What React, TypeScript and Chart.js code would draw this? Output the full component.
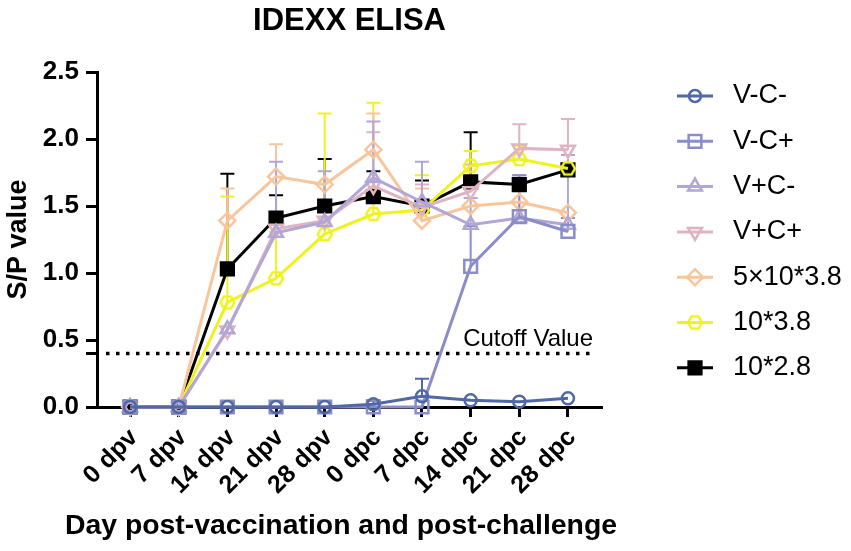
import { useEffect, useRef } from "react";
import { Chart, registerables } from "chart.js";
import { drawPoint } from "chart.js/helpers";

Chart.register(...registerables);

const FONT = "'Liberation Sans', Arial, sans-serif";

const CATEGORIES = ["0 dpv", "7 dpv", "14 dpv", "21 dpv", "28 dpv", "0 dpc", "7 dpc", "14 dpc", "21 dpc", "28 dpc"];
const Y_TICKS = [0, 0.4, 0.5, 1.0, 1.5, 2.0, 2.5];
const CUTOFF = 0.4;
const CUTOFF_LABEL = "Cutoff Value";
const X_TITLE = "Day post-vaccination and post-challenge";

// means and upper SD per group
const V_C_NEG = [0, 0, 0, 0, 0, 0.02, 0.08, 0.05, 0.04, 0.065];
const V_C_NEG_SD = [0, 0, 0, 0, 0, 0.03, 0.13, 0, 0, 0];
const V_C_POS = [0, 0, 0, 0, 0, 0, 0, 1.05, 1.42, 1.31];
const V_C_POS_SD = [0, 0, 0, 0, 0, 0, 0, 0.3, 0.31, 0.1];
const V_POS_C_NEG = [0, 0, 0.58, 1.3, 1.38, 1.71, 1.53, 1.36, 1.41, 1.36];
const V_POS_C_NEG_SD = [0, 0, 0, 0.53, 0.38, 0.42, 0.3, 0.2, 0.32, 0.52];
const V_POS_C_POS = [0, 0, 0.57, 1.33, 1.39, 1.65, 1.49, 1.61, 1.93, 1.92];
const V_POS_C_POS_SD = [0, 0, 0, 0, 0, 0.4, 0.17, 0.2, 0.18, 0.23];
const DOSE_5E38 = [0, 0, 1.39, 1.72, 1.66, 1.92, 1.39, 1.5, 1.53, 1.45];
const DOSE_5E38_SD = [0, 0, 0.24, 0.24, 0, 0.27, 0.24, 0, 0, 0];
const DOSE_E38 = [0, 0, 0.78, 0.96, 1.29, 1.44, 1.47, 1.8, 1.85, 1.78];
const DOSE_E38_SD = [0, 0, 0.79, 0.35, 0.9, 0.83, 0.26, 0.11, 0.1, 0];
const DOSE_E28 = [0, 0, 1.03, 1.41, 1.5, 1.57, 1.5, 1.68, 1.66, 1.77];
const DOSE_E28_SD = [0, 0, 0.71, 0.17, 0.35, 0.19, 0.19, 0.37, 0, 0];

function hexagon(color: string) {
  const c = document.createElement("canvas");
  c.width = 18;
  c.height = 18;
  const g = c.getContext("2d")!;
  g.strokeStyle = color;
  g.lineWidth = 2.5;
  g.beginPath();
  for (let k = 0; k < 6; k++) {
    const a = (k * Math.PI) / 3;
    const px = 9 + 7 * Math.cos(a);
    const py = 9 + 7 * Math.sin(a);
    if (k === 0) g.moveTo(px, py);
    else g.lineTo(px, py);
  }
  g.closePath();
  g.stroke();
  return c;
}

export default function App() {
  const canvasRef = useRef<HTMLCanvasElement>(null);
  const chartRef = useRef<Chart | null>(null);

  useEffect(() => {
    if (!canvasRef.current) return;
    if (chartRef.current) chartRef.current.destroy();

    const series = [
      { label: "V-C-", data: V_C_NEG, sd: V_C_NEG_SD, color: "#5068a6", style: "circle", radius: 6, fill: "rgba(0,0,0,0)", rot: 0 },
      { label: "V-C+", data: V_C_POS, sd: V_C_POS_SD, color: "#8a8dc9", style: "rect", radius: 9, fill: "rgba(0,0,0,0)", rot: 0 },
      { label: "V+C-", data: V_POS_C_NEG, sd: V_POS_C_NEG_SD, color: "#b1a6d6", style: "triangle", radius: 8, fill: "rgba(0,0,0,0)", rot: 0 },
      { label: "V+C+", data: V_POS_C_POS, sd: V_POS_C_POS_SD, color: "#dfb3c3", style: "triangle", radius: 8, fill: "rgba(0,0,0,0)", rot: 180 },
      { label: "5×10*3.8", data: DOSE_5E38, sd: DOSE_5E38_SD, color: "#f8c59d", style: "rectRot", radius: 8, fill: "rgba(0,0,0,0)", rot: 0 },
      { label: "10*3.8", data: DOSE_E38, sd: DOSE_E38_SD, color: "#eef31e", style: hexagon("#eef31e"), radius: 7, fill: "rgba(0,0,0,0)", rot: 0 },
      { label: "10*2.8", data: DOSE_E28, sd: DOSE_E28_SD, color: "#000000", style: "rect", radius: 9, fill: "#000000", rot: 0 },
    ];

    const overlay = {
      id: "overlay",
      beforeDatasetsDraw(chart: any) {
        const { ctx, chartArea, scales } = chart;
        const { x, y } = scales;
        ctx.save();
        // cutoff line
        const cy = y.getPixelForValue(CUTOFF);
        ctx.strokeStyle = "#000";
        ctx.lineWidth = 3.5;
        ctx.setLineDash([3.5, 6.5]);
        ctx.beginPath();
        ctx.moveTo(chartArea.left + 9, cy);
        ctx.lineTo(chartArea.right - 9, cy);
        ctx.stroke();
        ctx.setLineDash([]);
        ctx.fillStyle = "#000";
        ctx.font = `24px ${FONT}`;
        ctx.textAlign = "right";
        ctx.textBaseline = "alphabetic";
        ctx.fillText(CUTOFF_LABEL, chartArea.right - 9, cy - 7);
        // error bars (upper only)
        for (let i = series.length - 1; i >= 0; i--) {
          const s = series[i];
          ctx.strokeStyle = s.color;
          ctx.lineWidth = 2;
          s.data.forEach((v, j) => {
            if (!s.sd[j]) return;
            const px = x.getPixelForValue(j);
            const y0 = y.getPixelForValue(v);
            const y1 = y.getPixelForValue(v + s.sd[j]);
            ctx.beginPath();
            ctx.moveTo(px, y0);
            ctx.lineTo(px, y1);
            ctx.moveTo(px - 7, y1);
            ctx.lineTo(px + 7, y1);
            ctx.stroke();
          });
        }
        ctx.restore();
      },
      afterDraw(chart: any) {
        const { ctx, chartArea } = chart;
        ctx.save();
        ctx.fillStyle = "#000";
        // title
        ctx.font = `bold 31px ${FONT}`;
        ctx.textAlign = "center";
        ctx.textBaseline = "alphabetic";
        ctx.fillText("IDEXX ELISA", (chartArea.left + chartArea.right) / 2, 30);
        // x axis title
        ctx.font = `bold 28.4px ${FONT}`;
        ctx.textBaseline = "middle";
        ctx.fillText(X_TITLE, 341, 526);
        // legend
        series.forEach((s, i) => {
          const ly = 96 + i * 45.3;
          ctx.strokeStyle = s.color;
          ctx.lineWidth = 3;
          ctx.beginPath();
          ctx.moveTo(677, ly);
          ctx.lineTo(713, ly);
          ctx.stroke();
          ctx.fillStyle = s.fill;
          ctx.lineWidth = 2.5;
          drawPoint(ctx, { pointStyle: s.style, rotation: s.rot, radius: s.radius, borderWidth: 2.5 } as any, 695, ly);
          ctx.fillStyle = "#000";
          ctx.font = `27px ${FONT}`;
          ctx.textAlign = "left";
          ctx.textBaseline = "middle";
          ctx.fillText(s.label, 733, ly);
        });
        ctx.restore();
      },
    };

    chartRef.current = new Chart(canvasRef.current, {
      type: "line",
      data: {
        datasets: series.map((s) => ({
          label: s.label,
          data: s.data.map((v, i) => ({ x: i, y: v })),
          borderColor: s.color,
          backgroundColor: s.fill,
          borderWidth: 3,
          pointStyle: s.style as any,
          pointRotation: s.rot,
          pointRadius: s.radius,
          pointBorderWidth: 2.5,
          pointBorderColor: s.color,
          pointBackgroundColor: s.fill,
          tension: 0,
          clip: false as any,
        })),
      },
      options: {
        responsive: false,
        animation: false,
        layout: { padding: { top: 72, right: 249, bottom: 0, left: 0 } },
        plugins: {
          legend: { display: false },
          tooltip: { enabled: false },
          title: { display: false },
        },
        scales: {
          x: {
            type: "linear",
            min: -0.68,
            max: 9.7,
            afterBuildTicks: (s: any) => {
              s.ticks = CATEGORIES.map((_, i) => ({ value: i }));
            },
            afterFit: (s: any) => {
              s.height = 144;
            },
            ticks: {
              callback: (v: any) => CATEGORIES[v as number],
              autoSkip: false,
              minRotation: 45,
              maxRotation: 45,
              padding: 6,
              labelOffset: 4,
              color: "#000",
              font: { family: FONT, size: 25, weight: "bold" },
            },
            grid: { drawOnChartArea: false, drawTicks: true, tickLength: 10, tickColor: "#000", tickWidth: 3 },
            border: { display: true, color: "#000", width: 3 },
          },
          y: {
            min: 0,
            max: 2.5,
            afterBuildTicks: (s: any) => {
              s.ticks = Y_TICKS.map((v) => ({ value: v }));
            },
            afterFit: (s: any) => {
              s.width = 97;
            },
            ticks: {
              callback: (v: any) => (v === CUTOFF ? "" : Number(v).toFixed(1)),
              autoSkip: false,
              padding: 7,
              color: "#000",
              font: { family: FONT, size: 26, weight: "bold" },
            },
            grid: { drawOnChartArea: false, drawTicks: true, tickLength: 11, tickColor: "#000", tickWidth: 3 },
            border: { display: true, color: "#000", width: 3 },
            title: {
              display: true,
              text: "S/P value",
              color: "#000",
              font: { family: FONT, size: 27, weight: "bold" },
              padding: { top: 2, bottom: 0 },
            },
          },
        },
      },
      plugins: [overlay],
    });

    return () => {
      chartRef.current?.destroy();
      chartRef.current = null;
    };
  }, []);

  return (
    <div style={{ position: "fixed", left: 0, top: 0, width: 851, height: 551, background: "#fff" }}>
      <canvas ref={canvasRef} width={851} height={551} />
    </div>
  );
}
